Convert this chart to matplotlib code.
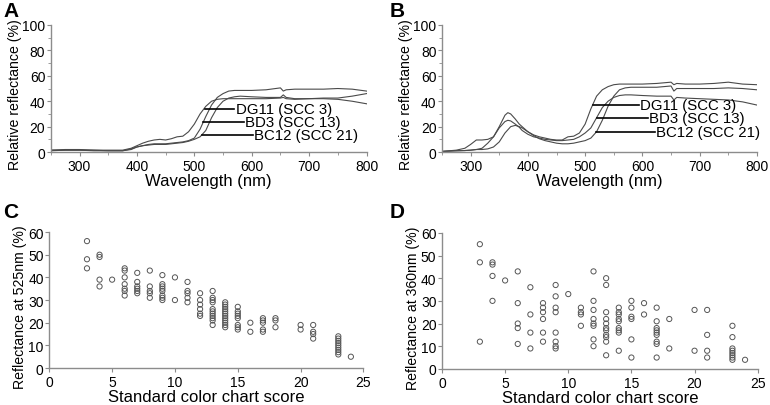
import matplotlib.pyplot as plt
from matplotlib.ticker import MultipleLocator

plt.rcParams['font.family'] = ['Liberation Sans', 'DejaVu Sans']

# --- spectra, panel A ---
wl_a = [250, 275, 300, 325, 350, 375, 390, 400, 410, 420, 430, 440, 450, 460, 470,
        480, 490, 500, 510, 520, 530, 540, 550, 560, 570, 580, 600, 625, 650, 655,
        660, 675, 700, 725, 750, 775, 800]
a_dg11 = [1.5, 2, 2, 1.5, 1.5, 1.5, 3, 5, 7, 8.5, 9.5, 10, 9.5, 10.5, 12, 12.5,
          16, 22, 30, 36, 40, 41.5, 42, 42, 42, 42, 42, 42, 42.5, 43, 42, 41.5, 42,
          42.5, 42.5, 44, 46]
a_bd3 = [1.5, 1.5, 1.5, 1.5, 1, 1, 2.5, 4, 5, 6, 6.5, 6.5, 6.5, 7, 7.5, 8, 9, 11,
         18, 28, 37, 43, 46, 48, 48.5, 48.5, 48.5, 49, 50.5, 48, 49, 49.5, 49.5,
         49.5, 50, 49.5, 48]
a_bc12 = [1, 1.5, 1.5, 1, 1, 1, 2, 4, 5, 5.5, 6, 6, 6, 6.5, 7, 7.5, 8.5, 10, 12,
          17, 27, 35, 40, 42.5, 43.5, 44, 43.5, 43, 43, 45, 43, 42, 42, 42, 41.5,
          40, 38]

# --- spectra, panel B ---
wl_b = [250, 275, 290, 300, 310, 320, 330, 340, 350, 360, 365, 370, 378, 385, 390,
        400, 410, 420, 430, 440, 450, 460, 470, 480, 490, 500, 510, 520, 530, 540,
        550, 560, 570, 580, 600, 625, 650, 655, 660, 675, 700, 725, 750, 775, 800]
b_dg11 = [0.5, 1.5, 3, 6, 9.5, 9.5, 10, 12, 20, 29, 31, 30, 26, 22, 20, 16, 13.5,
          12, 11, 10, 9.5, 9.5, 12, 12.5, 15, 22, 34, 44, 49, 51.5, 53, 53.5, 53.5,
          53.5, 53.5, 54, 55, 53, 54, 53.5, 53.5, 54, 55, 53.5, 53]
b_bd3 = [0.5, 1, 1.2, 1.5, 2, 3, 7, 12, 19, 24, 25, 24.5, 22, 19.5, 17, 14, 12, 11,
         10, 9.5, 9, 9, 9.5, 10, 12, 15, 19, 27, 35, 40, 43, 44.5, 45, 45, 44.5,
         44, 44, 41, 43, 42.5, 42, 41.5, 41, 39.5, 37]
b_bc12 = [0.5, 1, 1.2, 1.5, 2, 2, 2.5, 4, 8, 15, 17.5, 20, 21, 20, 19, 16, 13, 10.5,
          9, 8, 7, 6.5, 6.5, 7, 8, 9, 11, 16, 25, 36, 44, 49, 50.5, 51, 51, 51, 52,
          48, 50, 50, 50, 50, 50.5, 50, 49]

labels = ["DG11 (SCC 3)", "BD3 (SCC 13)", "BC12 (SCC 21)"]

# --- scatter, panel C (525 nm) ---
c_scc = [3]*3 + [4]*4 + [5] + [6]*7 + [7]*6 + [8]*5 + [9]*8 + [10]*2 + [11]*5 + \
        [12]*6 + [13]*11 + [14]*12 + [15]*8 + [16]*2 + [17]*5 + [18]*3 + [20]*2 + \
        [21]*4 + [23]*9 + [24]
c_refl = [56, 48, 44,
          50, 49, 39, 36,
          39,
          44, 43, 40, 37, 35, 34, 32,
          42, 38, 36, 35, 34, 33,
          43, 36, 34, 33, 31,
          41, 37, 36, 35, 34, 32, 31, 30,
          40, 30,
          38, 34, 33, 31, 29,
          33, 30, 28, 26, 24, 23,
          34, 31, 30, 29, 26, 25, 24, 23, 22, 21, 19,
          29, 28, 27, 26, 25, 24, 23, 22, 21, 20, 19, 18,
          27, 25, 24, 23, 22, 19, 18, 17,
          20, 16,
          22, 21, 20, 17, 16,
          22, 21, 18,
          19, 17,
          19, 16, 15, 13,
          14, 13, 12, 11, 10, 9, 8, 7, 6,
          5]

# --- scatter, panel D (360 nm) ---
d_scc = [3]*3 + [4]*4 + [5] + [6]*5 + [7]*4 + [8]*6 + [9]*8 + [10] + [11]*4 + \
        [12]*8 + [13]*11 + [14]*9 + [15]*6 + [16]*2 + [17]*9 + [18]*2 + [20]*2 + \
        [21]*4 + [23]*8 + [24]
d_refl = [55, 47, 12,
          47, 46, 41, 30,
          39,
          43, 29, 20, 18, 11,
          36, 24, 16, 9,
          29, 27, 25, 22, 16, 12,
          37, 32, 27, 25, 16, 12, 10, 9,
          33,
          27, 25, 24, 19,
          43, 30, 26, 22, 20, 19, 13, 10,
          40, 37, 25, 22, 20, 18, 17, 15, 14, 12, 6,
          27, 25, 24, 22, 21, 18, 17, 16, 8,
          30, 27, 23, 22, 13, 5,
          29, 24,
          27, 21, 18, 17, 16, 15, 12, 11, 5,
          22, 9,
          26, 8,
          26, 15, 8, 5,
          19, 14, 9, 8, 7, 6, 5, 4,
          4]

axis_gray = "#8c8c8c"

fig = plt.figure(figsize=(7.7, 4.06), dpi=100)
axA = fig.add_axes([0.066, 0.623, 0.410, 0.313])
axB = fig.add_axes([0.574, 0.623, 0.409, 0.313])
axC = fig.add_axes([0.064, 0.091, 0.408, 0.335])
axD = fig.add_axes([0.574, 0.089, 0.410, 0.335])


def style(ax):
    for s in ["top", "right"]:
        ax.spines[s].set_visible(False)
    for s in ["left", "bottom"]:
        ax.spines[s].set_color(axis_gray)
        ax.spines[s].set_linewidth(1.0)
    ax.tick_params(which="both", direction="out", color=axis_gray, labelsize=10)
    ax.tick_params(axis="y", pad=1)
    ax.tick_params(axis="x", pad=2)
    ax.tick_params(which="major", length=3)
    ax.tick_params(which="minor", length=2)


# spectra panels
for ax, wl, curves, marks in [
    (axA, wl_a, [a_dg11, a_bd3, a_bc12],
     [(519, 570, 34), (515, 587, 23.6), (513, 602, 13.4)]),
    (axB, wl_b, [b_dg11, b_bd3, b_bc12],
     [(514, 594, 37.3), (521, 610, 26.6), (519, 622, 15.9)]),
]:
    for ys in curves:
        ax.plot(wl, ys, color="#4a4a4a", lw=0.8)
    for lab, (x0, x1, y) in zip(labels, marks):
        ax.plot([x0, x1], [y, y], color="black", lw=1.2)
        ax.text(x1 + 2, y, lab, fontsize=10.8, va="center", ha="left")
    ax.set_xlim(250, 800)
    ax.set_ylim(0, 100)
    ax.set_xticks([300, 400, 500, 600, 700, 800])
    ax.set_yticks([0, 20, 40, 60, 80, 100])
    ax.xaxis.set_minor_locator(MultipleLocator(50))
    ax.yaxis.set_minor_locator(MultipleLocator(10))
    ax.set_xlabel("Wavelength (nm)", fontsize=12, labelpad=0)
    ax.set_ylabel("Relative reflectance (%)", fontsize=10.2)
    ax.yaxis.set_label_coords(-0.092, 0.46)
    style(ax)

# scatter panels
for ax, xs, ys, ylab in [
    (axC, c_scc, c_refl, "Reflectance at 525nm (%)"),
    (axD, d_scc, d_refl, "Reflectance at 360nm (%)"),
]:
    ax.scatter(xs, ys, s=14, facecolors="none", edgecolors="#555555", linewidths=0.7)
    ax.set_xlim(0, 25)
    ax.set_ylim(0, 60)
    ax.set_xticks([0, 5, 10, 15, 20, 25])
    ax.set_yticks([0, 10, 20, 30, 40, 50, 60])
    ax.set_xlabel("Standard color chart score", fontsize=12, labelpad=0)
    ax.set_ylabel(ylab, fontsize=10.2)
    ax.yaxis.set_label_coords(-0.07, 0.452)
    style(ax)

for lab, x, y in [("A", 0.004, 0.995), ("B", 0.506, 0.995),
                  ("C", 0.004, 0.50), ("D", 0.506, 0.50)]:
    fig.text(x, y, lab, fontsize=15, fontweight="bold", va="top")

fig.savefig("out.png", dpi=100)
